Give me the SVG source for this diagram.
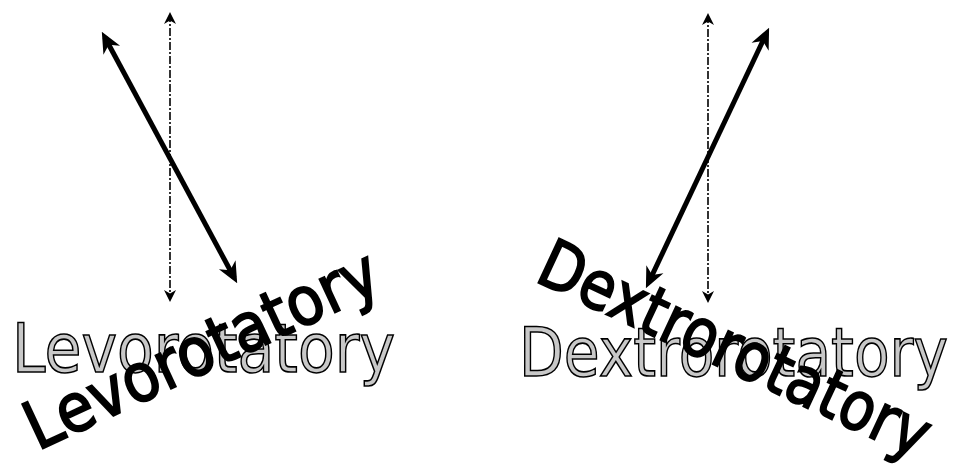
<svg xmlns="http://www.w3.org/2000/svg" width="956" height="468" viewBox="0 0 956 468">
<style>
.gray{font-family:"DejaVu Sans","Liberation Sans",sans-serif;font-size:67px;fill:#c8c8c8;stroke:#000;stroke-width:1.6px}
.dark{font-family:"DejaVu Sans","Liberation Sans",sans-serif;font-size:67px;fill:#000;stroke:#000;stroke-width:2px}
.thick{stroke:#000;stroke-width:5;fill:none;marker-start:url(#big);marker-end:url(#big)}
.dash{stroke:#000;stroke-width:1.6;fill:none;stroke-dasharray:8 2 2 2;marker-start:url(#small);marker-end:url(#small)}
</style>
<defs>
<marker id="big" viewBox="0 0 20 20" refX="14" refY="10" markerWidth="21" markerHeight="21" markerUnits="userSpaceOnUse" orient="auto-start-reverse">
<path d="M0,1 L20,10 L0,19 L6,10 z" fill="#000"/>
</marker>
<marker id="small" viewBox="0 0 12 12" refX="10" refY="6" markerWidth="12" markerHeight="12" markerUnits="userSpaceOnUse" orient="auto-start-reverse">
<path d="M0,0 L12,6 L0,12 L3.5,6 z" fill="#000"/>
</marker>
</defs>
<g id="connectors">
<line class="dash" x1="170" y1="14" x2="170" y2="300"/>
<line class="thick" x1="104.8" y1="37.3" x2="234.2" y2="277.7"/>
<line class="dash" x1="708" y1="15" x2="708" y2="301"/>
<line class="thick" x1="766.4" y1="33.4" x2="648.6" y2="282.6"/>
</g>
<g id="levo-plain"><text class="gray" x="12" y="372" textLength="383" lengthAdjust="spacingAndGlyphs">Levorotatory</text></g>
<g id="levo-rotated"><text class="dark" x="12" y="372" textLength="383" lengthAdjust="spacingAndGlyphs" transform="rotate(-25 203 354)">Levorotatory</text></g>
<g id="dextro-plain"><text class="gray" x="519" y="376" textLength="429" lengthAdjust="spacingAndGlyphs">Dextrorotatory</text></g>
<g id="dextro-rotated"><text class="dark" x="519" y="376" textLength="424" lengthAdjust="spacingAndGlyphs" transform="translate(0 -4) rotate(25 733 362)">Dextrorotatory</text></g>
</svg>
